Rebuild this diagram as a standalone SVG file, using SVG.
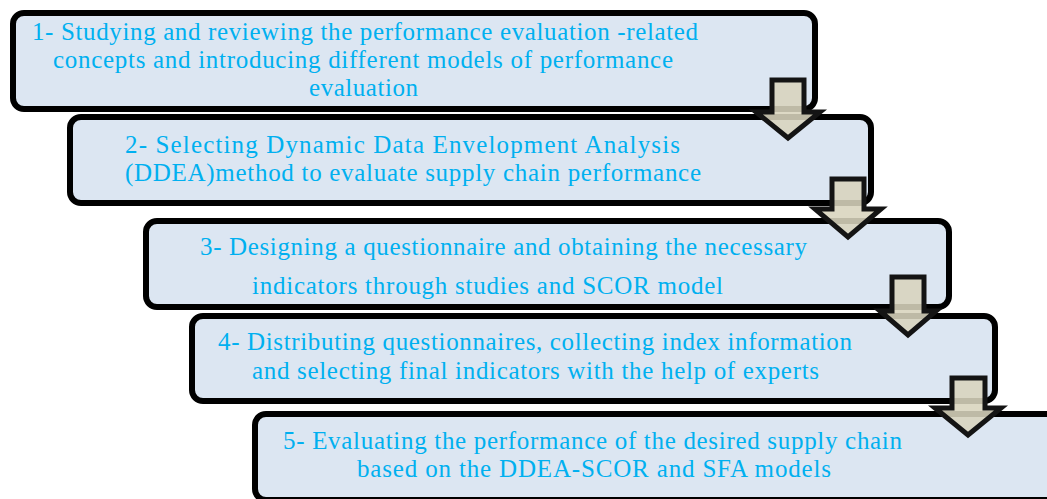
<svg xmlns="http://www.w3.org/2000/svg" width="1047" height="499" viewBox="0 0 1047 499">
  <style>
    .box { fill: #dce6f2; stroke: #000; stroke-width: 6; }
    .label { font-size: 25px; fill: #00b0f0; }
    .arrow { fill: #d8d4bd; fill-opacity: 0.88; stroke: #141414; stroke-width: 5; stroke-linejoin: miter; }
  </style>

  <!-- process steps -->
  <g font-family="Liberation Serif, DejaVu Serif, serif">
  <g id="step1">
    <rect class="box" x="13" y="13" width="802" height="96" rx="11"/>
    <text class="label" x="32" y="40" textLength="666" lengthAdjust="spacing">1- Studying and reviewing the performance evaluation -related</text>
    <text class="label" x="53" y="68" textLength="620" lengthAdjust="spacing">concepts and introducing different models of performance</text>
    <text class="label" x="309" y="96" textLength="109" lengthAdjust="spacing">evaluation</text>
  </g>
  <g id="step2">
    <rect class="box" x="70" y="117" width="801" height="86" rx="11"/>
    <text class="label" x="125" y="153" textLength="555" lengthAdjust="spacing">2- Selecting Dynamic Data Envelopment Analysis</text>
    <text class="label" x="125" y="181" textLength="576" lengthAdjust="spacing">(DDEA)method to evaluate supply chain performance</text>
  </g>
  <g id="step3">
    <rect class="box" x="146" y="221" width="803" height="86" rx="11"/>
    <text class="label" x="200" y="255" textLength="607" lengthAdjust="spacing">3- Designing a questionnaire and obtaining the necessary</text>
    <text class="label" x="252" y="294" textLength="471" lengthAdjust="spacing">indicators through studies and SCOR model</text>
  </g>
  <g id="step4">
    <rect class="box" x="192" y="316" width="803" height="85" rx="11"/>
    <text class="label" x="218" y="350" textLength="634" lengthAdjust="spacing">4- Distributing questionnaires, collecting index information</text>
    <text class="label" x="252" y="379" textLength="567" lengthAdjust="spacing">and selecting final indicators with the help of experts</text>
  </g>
  <g id="step5">
    <rect class="box" x="255" y="414" width="820" height="86" rx="11"/>
    <text class="label" x="283" y="449" textLength="619" lengthAdjust="spacing">5- Evaluating the performance of the desired supply chain</text>
    <text class="label" x="357" y="477" textLength="474" lengthAdjust="spacing">based on the DDEA-SCOR and SFA models</text>
  </g>
  </g>

  <!-- block arrows between steps -->
  <g id="connectors">
    <path class="arrow" d="M772 80 H804 V112 H820 L788 138 L756 112 H772 Z"/>
    <path class="arrow" d="M832 179 H864 V209 H881 L848 237 L815 209 H832 Z"/>
    <path class="arrow" d="M892 277 H924 V311 H936 L908 335 L880 311 H892 Z"/>
    <path class="arrow" d="M952 378 H985 V408 H1001 L968 435 L935 408 H952 Z"/>
  </g>
</svg>
